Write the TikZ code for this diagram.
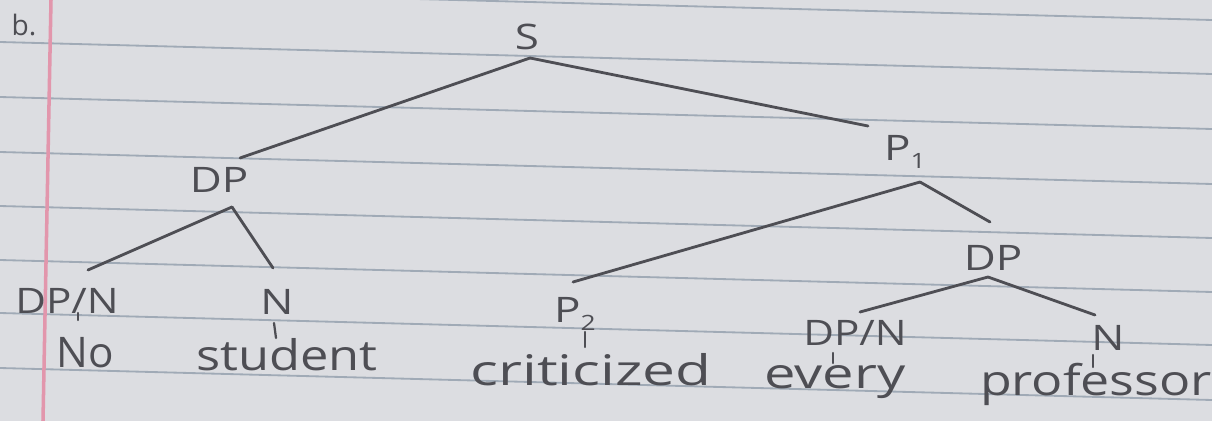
\documentclass[tikz,border=0pt]{standalone}
\usepackage{fontspec}
\setmainfont{Open Sans}
\usetikzlibrary{calc}
\definecolor{paper}{RGB}{220,221,225}
\definecolor{rulecol}{RGB}{160,170,182}
\definecolor{margincol}{RGB}{226,150,172}
\definecolor{pencil}{RGB}{78,78,84}
\tikzset{
  lbl/.style={inner sep=0pt, anchor=base, text=pencil, font=\fontsize{25}{27}\selectfont},
  word/.style={inner sep=0pt, anchor=base, text=pencil, font=\fontsize{30}{32}\selectfont},
  branch/.style={draw=pencil, line width=2pt, line cap=round},
  tickline/.style={draw=pencil, line width=1.6pt, line cap=round},
  ruled/.style={draw=rulecol, line width=1.3pt},
}
\newcommand{\hw}[2][1.25]{\scalebox{#1}[1]{#2}}
\newcommand{\sbs}[1]{\raisebox{-0.45ex}{\fontsize{15}{15}\selectfont #1}}
\begin{document}
\begin{tikzpicture}[x=0.025cm,y=-0.025cm]
\fill[paper] (0,0) rectangle (1212,421);
\useasboundingbox (0,0) rectangle (1212,421);
\foreach \yy in {-12,42,97,152,206,260,313,368} \draw[ruled] (0,\yy) -- (1212,\yy+32);
\draw[margincol, line width=2.5pt] (51,0) -- (43,421);

% labels
\node[lbl, font=\fontsize{20}{22}\selectfont] (b) at (24,35) {b.};
\node[lbl] (S) at (527,50) {\hw{S}};
\node[lbl] (DPa) at (219,192) {\hw{DP}};
\node[lbl] (P1) at (905,160) {\hw{P\sbs{1}}};
\node[lbl] (DPNa) at (67,313) {\hw[1.2]{DP/N}};
\node[lbl] (Na) at (277,314) {\hw{N}};
\node[lbl] (P2) at (575,322) {\hw{P\sbs{2}}};
\node[lbl] (DPb) at (993,270) {\hw{DP}};
\node[lbl] (DPNb) at (855,345) {\hw[1.2]{DP/N}};
\node[lbl] (Nb) at (1108,350) {\hw{N}};

% words
\node[word] (No) at (85,367) {No};
\node[word] (student) at (287,370) {\hw[1.2]{student}};
\node[word] (criticized) at (591,385) {\hw[1.39]{criticized}};
\node[word] (every) at (835,388) {\hw[1.33]{every}};
\node[word] (professor) at (1096,395) {\hw[1.23]{professor}};

% branches
\draw[branch] ($(S.base)+(3,8)$) -- ($(DPa.base)+(21,-34)$);
\draw[branch] ($(S.base)+(3,8)$) -- ($(P1.base)+(-37,-34)$);
\draw[branch] ($(DPa.base)+(13,15)$) -- ($(DPNa.base)+(21,-43)$);
\draw[branch] ($(DPa.base)+(13,15)$) -- ($(Na.base)+(-4,-46)$);
\draw[branch] ($(P1.base)+(15,22)$) -- ($(P2.base)+(-2,-40)$);
\draw[branch] ($(P1.base)+(15,22)$) -- ($(DPb.base)+(-3,-48)$);
\draw[branch] ($(DPb.base)+(-5,7)$) -- ($(DPNb.base)+(5,-33)$);
\draw[branch] ($(DPb.base)+(-5,7)$) -- ($(Nb.base)+(-13,-35)$);

% ticks to words
\draw[tickline] ($(DPNa.base)+(11,0)$) -- ($(No.base)+(-7,-47)$);
\draw[tickline] ($(Na.base)+(-3,9)$) -- ($(student.base)+(-11,-32)$);
\draw[tickline] ($(P2.base)+(10,10)$) -- ($(criticized.base)+(-6,-38)$);
\draw[tickline] ($(DPNb.base)+(-22,8)$) -- ($(every.base)+(-2,-25)$);
\draw[tickline] ($(Nb.base)+(-15,5)$) -- ($(professor.base)+(-3,-28)$);
\end{tikzpicture}
\end{document}
